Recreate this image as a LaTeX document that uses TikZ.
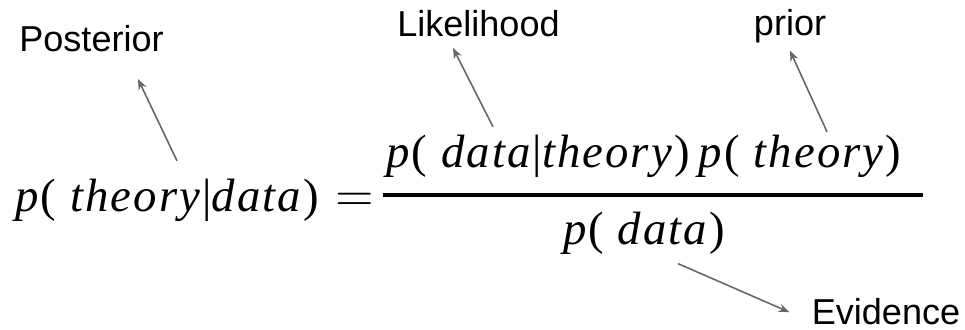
\documentclass[tikz,border=0pt]{standalone}
\usepackage{fontspec}
\setmainfont{Liberation Sans}
\newfontfamily\eqfont{Liberation Serif}[LetterSpace=4.5]
\usetikzlibrary{arrows.meta,positioning}

\begin{document}
\begin{tikzpicture}[
    term/.style={inner sep=0pt, anchor=base,
                 font=\eqfont\fontsize{13.3}{15}\selectfont},
    tag/.style={inner sep=0pt, anchor=base,
                font=\fontsize{10.25}{12}\selectfont},
    pointer/.style={-{Stealth[length=3pt,width=2.4pt]}, draw=black!60, line width=0.45pt}]

\useasboundingbox (0,0) rectangle (9.65,3.3);

% equation
\node[term] (lhs) at (1.67,1.18) {\emph{p}( \emph{theory}|\emph{data})};
\node[term] (eq) at (3.55,1.18) {$=$};
\node[term] (lik) at (5.38,1.62) {\emph{p}( \emph{data}|\emph{theory})};
\node[term] (pri) at (8.00,1.62) {\emph{p}( \emph{theory})};
\node[term] (evi) at (6.44,0.85) {\emph{p}( \emph{data})};
\draw[line width=0.9pt] (3.83,1.35) -- (9.23,1.35);

% names of the terms
\node[tag] (post) at (0.915,2.78) {Posterior};
\node[tag] (like) at (4.785,2.93) {Likelihood};
\node[tag] (prio) at (7.90,2.94) {prior};
\node[tag] (evid) at (8.86,0.05) {Evidence};

\draw[pointer] ([xshift=1mm,yshift=1.8mm]lhs.north) -- ([xshift=4.65mm,yshift=-2.6mm]post.south);
\draw[pointer] ([xshift=-4.5mm,yshift=0.8mm]lik.north) -- ([xshift=-2.55mm,yshift=-1mm]like.south);
\draw[pointer] ([xshift=2.7mm,yshift=0.3mm]pri.north) -- ([yshift=-0.65mm]prio.south);
\draw[pointer] ([xshift=3.4mm,yshift=-0.8mm]evi.south) -- ([xshift=-2.2mm]evid.west);
\end{tikzpicture}
\end{document}
